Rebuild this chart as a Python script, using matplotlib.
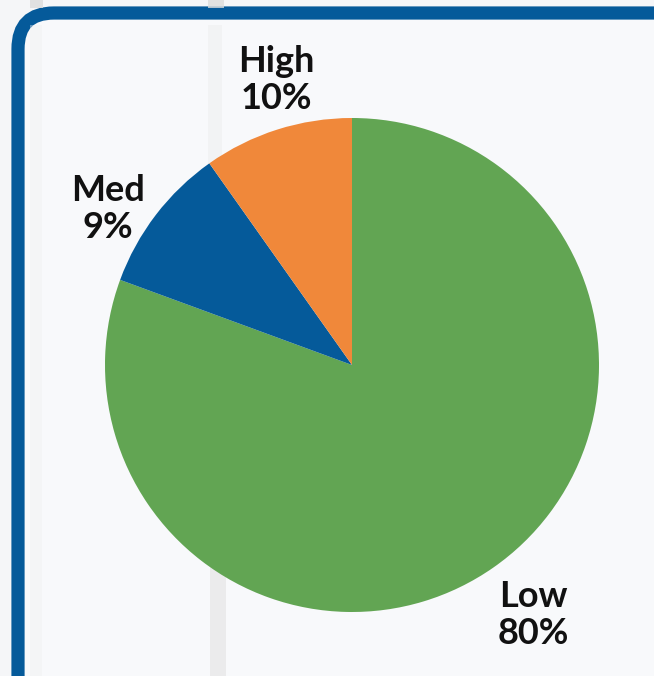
import matplotlib
matplotlib.use("Agg")
import matplotlib.pyplot as plt
from matplotlib.patches import FancyBboxPatch, Rectangle

categories = ["Low", "Med", "High"]
values = [80.6, 9.6, 9.8]
pct_labels = ["80%", "9%", "10%"]
colors = ["#62a553", "#055a9a", "#f0883a"]

W, H = 654, 676
fig = plt.figure(figsize=(W / 100, H / 100), dpi=100)
fig.patch.set_facecolor("#f3f4f6")

# decorative background layer in pixel coordinates
bg = fig.add_axes([0, 0, 1, 1])
bg.set_xlim(0, W)
bg.set_ylim(H, 0)
bg.axis("off")
bg.add_patch(Rectangle((0, 0), W, H, facecolor="#f5f6f8", edgecolor="none"))
bg.add_patch(FancyBboxPatch((18, 13), 700, 800,
                            boxstyle="round,pad=0,rounding_size=36",
                            facecolor="#f8f9fb", edgecolor="#055a9a", linewidth=9.5))
for x0, w in [(30, 13), (208, 16)]:
    bg.add_patch(Rectangle((x0, 0), w, 8, facecolor="#dcdcdc", edgecolor="none", alpha=0.8))
bg.add_patch(Rectangle((210, 560), 16, 116, facecolor="#e6e6e6", edgecolor="none", alpha=0.7))
bg.add_patch(Rectangle((30, 25), 12, 651, facecolor="#f0f0f0", edgecolor="none", alpha=0.4))
bg.add_patch(Rectangle((208, 25), 14, 140, facecolor="#eeeeee", edgecolor="none", alpha=0.5))

# pie
cx, cy, r = 352, 365, 247
ax = fig.add_axes([(cx - r) / W, 1 - (cy + r) / H, 2 * r / W, 2 * r / H])
ax.pie(values, colors=colors, startangle=90, counterclock=False,
       wedgeprops=dict(linewidth=0))
ax.set_xlim(-1, 1)
ax.set_ylim(-1, 1)
ax.set_aspect("auto")
ax.axis("off")

label_pos = {"Low": (533, 615), "Med": (108, 209), "High": (276, 80)}
for cat, pl in zip(categories, pct_labels):
    x, y = label_pos[cat]
    bg.text(x, y, f"{cat}\n{pl}", ha="center", va="center", fontsize=26,
            family=["Lato", "DejaVu Sans"], fontweight="bold", color="#111111",
            linespacing=1.12)

fig.savefig("out.png", dpi=100, facecolor=fig.get_facecolor())
